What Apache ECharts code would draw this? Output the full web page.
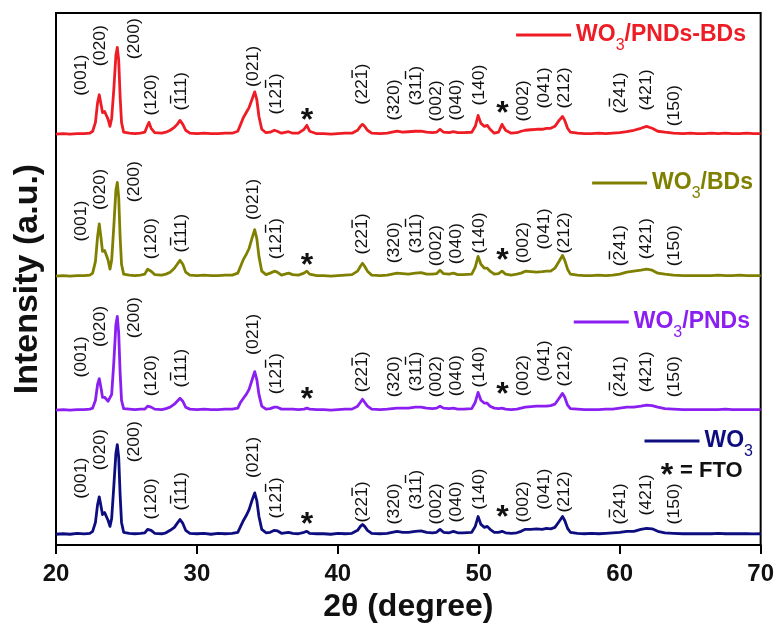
<!DOCTYPE html>
<html>
<head>
<meta charset="utf-8">
<script src="https://cdn.jsdelivr.net/npm/echarts@6/dist/echarts.min.js"></script>
<style>
  html, body { margin: 0; padding: 0; background: #fff; }
  #chart { width: 777px; height: 628px; }
</style>
</head>
<body>
<div id="chart"></div>
<script>
// Shared 2-theta sampling (degrees) for all four diffraction patterns
const twoTheta = [
  20.0, 20.5, 21.0, 21.5, 22.0, 22.4, 22.6, 22.8, 22.95, 23.07,
  23.2, 23.3, 23.45, 23.55, 23.7, 23.83, 23.95, 24.1, 24.25, 24.35,
  24.45, 24.55, 24.65, 24.8, 25.2, 25.6, 26.0, 26.3, 26.5, 26.6,
  26.75, 27.0, 27.5, 27.8, 28.1, 28.4, 28.6, 28.8, 29.0, 29.2,
  29.5, 30.0, 30.5, 31.0, 31.5, 32.0, 32.5, 32.9, 33.1, 33.3,
  33.5, 33.7, 33.9, 34.1, 34.25, 34.4, 34.6, 34.9, 35.2, 35.5,
  35.7, 36.0, 36.5, 36.8, 37.2, 37.6, 37.8, 38.0, 38.5, 39.0,
  39.5, 40.0, 40.5, 41.0, 41.4, 41.6, 41.75, 41.9, 42.1, 42.4,
  43.0, 43.5, 44.2, 44.6, 45.0, 45.5, 45.9, 46.3, 46.7, 47.0,
  47.25, 47.5, 47.9, 48.2, 48.5, 48.9, 49.5, 49.75, 49.95, 50.15,
  50.4, 50.6, 50.8, 51.1, 51.4, 51.65, 51.9, 52.3, 52.7, 53.0,
  53.3, 53.7, 54.1, 54.5, 54.8, 55.1, 55.4, 55.7, 55.94, 56.1,
  56.3, 56.5, 57.0, 57.5, 58.0, 58.5, 59.0, 59.5, 60.0, 60.5,
  61.0, 61.5, 61.9, 62.3, 62.7, 63.2, 63.8, 64.5, 65.0, 65.5,
  66.0, 66.5, 67.0, 67.5, 68.0, 68.5, 69.0, 69.5, 70.0
];

// Intensities above each pattern's own baseline (a.u.)
const intWO3 = [
  0, 0.5, 0, 0.8, 0.3, 1, 3, 12, 30, 38,
  28, 20, 22, 21, 14, 8, 16, 48, 82, 91,
  78, 40, 12, 2, 1, 0.5, 1, 1.5, 5, 7,
  4, 1, 0.5, 1.5, 4, 7, 11, 15, 11, 4,
  1, 0.5, 1, 0, 1, 0.5, 1, 2, 8, 14,
  19, 25, 34, 42, 34, 18, 5, 1.5, 2, 4,
  3.5, 1, 2, 1, 0.5, 2, 3, 1, 0.5, 0.5,
  0, 1, 0.5, 1, 4, 8, 10, 8, 4, 1,
  0.5, 1, 3, 2, 2, 3, 3.5, 2, 1.5, 2,
  5, 2, 1.5, 3, 1.5, 1.5, 2, 8, 18, 10,
  7, 8, 5, 2, 2, 3, 1.5, 1, 1.5, 3,
  5, 5, 5.5, 5, 6, 5.5, 7, 13, 18, 14,
  6, 2, 1, 0.5, 1, 0.5, 1, 1.5, 2, 3,
  3, 5, 6, 5.5, 3, 1.5, 1, 0.5, 0.5, 0.5,
  0.5, 0.5, 1, 0.5, 0.5, 0.5, 0.5, 0.3, 0.5
];
const intPNDs = [
  0, 0.5, 0, 0.5, 0.5, 1, 2, 10, 26, 32,
  22, 13, 13, 12, 9, 7, 16, 48, 87, 95,
  78, 38, 10, 1.5, 1, 0.5, 1, 1, 4, 5,
  3, 1, 0.5, 1.5, 3, 6, 9, 12, 9, 3,
  1, 0.5, 1, 0.5, 0.5, 1, 1, 2, 8, 12,
  16, 21, 30, 39, 31, 16, 4, 1, 1.5, 3,
  3, 1, 1, 1, 0.5, 1, 2, 1, 0.5, 0.5,
  0, 0.5, 1, 1, 4, 8, 11, 8, 4, 1,
  0.5, 1, 2, 2, 2, 3, 3, 2, 1.5, 2,
  4, 2, 1.5, 2, 1, 1, 1.5, 8, 18, 10,
  7, 7, 4, 2, 1.5, 2, 1, 0.5, 1, 2,
  3, 3.5, 4, 4, 4, 4.5, 6, 12, 17, 13,
  5, 1.5, 1, 0.5, 0.5, 0.5, 1, 1, 2, 3,
  3, 4, 5, 4.5, 3, 1.5, 1, 0.5, 0.5, 0.5,
  0.5, 0.5, 0.5, 1, 0.5, 0.5, 0.5, 0.5, 0.5
];
const intBDs = [
  0, 0.5, 0, 0.5, 0.5, 1, 3, 15, 40, 53,
  38, 25, 26, 25, 16, 7, 16, 50, 87, 95,
  80, 40, 12, 2, 1, 0.5, 1, 2, 7, 9,
  5, 1.5, 1, 2, 4, 8, 12, 16, 12, 4,
  1, 0.5, 1, 0.5, 0.5, 1, 1, 3, 10, 17,
  22, 28, 38, 47, 38, 20, 5, 1.5, 3, 5,
  4, 1, 3, 1.5, 1, 3, 5, 2, 0.5, 0.5,
  0, 0.5, 1, 1.5, 5, 10, 13, 10, 5, 1,
  0.5, 1, 3, 2.5, 2, 3, 3.5, 2, 2, 2.5,
  6, 2.5, 2, 3, 1.5, 1.5, 2, 9, 20, 12,
  8, 8, 5, 2, 2.5, 5, 2, 1, 2, 3,
  5, 4.5, 4, 4.5, 5, 5, 8, 15, 21, 16,
  7, 2, 1, 0.5, 0.5, 1, 0.5, 1, 2, 4,
  5, 6, 7, 6, 3, 2, 1, 0.5, 0.5, 0.5,
  0.5, 0.5, 1, 0.5, 0.5, 1, 0.5, 0.5, 0.5
];
const intPNDsBDs = [
  0, 0.5, 0, 0.5, 0.5, 1, 3, 12, 32, 40,
  30, 22, 23, 22, 15, 8, 16, 45, 80, 88,
  75, 38, 12, 2, 1, 0.5, 1, 2, 9, 12,
  6, 1.5, 1, 2, 4, 7, 10, 14, 10, 4,
  1, 0.5, 1, 0.5, 0.5, 1, 1, 3, 10, 17,
  22, 27, 35, 43, 35, 18, 5, 1.5, 2, 4,
  3, 1, 2.5, 1, 1, 5, 9, 3, 0.5, 0.5,
  0, 0.5, 1, 1, 4, 8, 10, 8, 4, 1,
  0.5, 1, 3, 2, 2.5, 3, 3, 2, 1.5, 2,
  5, 2, 1.5, 2.5, 1.5, 1.5, 2, 8, 19, 11,
  8, 9, 5, 1, 2, 10, 4, 1, 1.5, 3,
  4, 4.5, 5, 5, 6, 6, 8, 14, 18, 14,
  6, 2, 1, 0.5, 0.5, 1, 0.5, 1, 1.5, 2.5,
  4, 6, 8, 6, 3, 2, 1, 0.5, 1, 0.5,
  0.5, 1, 0.5, 1, 0.5, 0.5, 1, 0.5, 0.5
];

// Pattern names, vertical stacking offsets and colours (bottom to top)
const seriesNames = ['WO3', 'WO3/PNDs', 'WO3/BDs', 'WO3/PNDs-BDs'];
const seriesValues = [intWO3, intPNDs, intBDs, intPNDsBDs];
const stackOffsets = [11, 137, 273, 417];
const seriesColors = ['#0d0d80', '#8b1ff2', '#808000', '#ee1c25'];

// x-axis ticks
const xTicks = [20, 30, 40, 50, 60, 70];

// Miller indices: text, index of the barred digit (-1 = none), 2-theta position
const hklText = ['(001)', '(020)', '(200)', '(120)', '(111)', '(021)', '(121)', '(221)', '(320)', '(311)',
                 '(002)', '(040)', '(140)', '(002)', '(041)', '(212)', '(241)', '(421)', '(150)'];
const hklBar = [-1, -1, -1, -1, 1, -1, 3, 3, -1, 3, -1, -1, -1, -1, -1, -1, 1, -1, -1];
const hklTheta = [21.82, 23.19, 25.56, 26.78, 28.91, 34.05, 35.65, 41.79, 44.04, 45.58,
                  47.0, 48.46, 50.07, 53.19, 54.68, 56.1, 60.05, 61.9, 63.9];
// Height of each index label above the pattern baseline
const hklHeightWO3 = [36, 65, 73, 15, 24, 57, 16, 12, 10, 25, 10, 12, 25, 12, 25, 22, 10, 19, 10];
const hklHeightPNDs = [33, 64, 73, 14, 23, 56, 16, 18, 13, 19, 13, 14, 23, 14, 29, 24, 13, 18, 13];
const hklHeightBDs = [35, 67, 75, 17, 24, 57, 17, 22, 13, 23, 10, 12, 23, 13, 27, 23, 10, 17, 10];
const hklHeightPNDsBDs = [39, 69, 76, 19, 24, 48, 20, 30, 14, 29, 13, 14, 29, 13, 26, 26, 21, 24, 8];
const hklHeights = [hklHeightWO3, hklHeightPNDs, hklHeightBDs, hklHeightPNDsBDs];

// FTO substrate reflections (asterisks)
const ftoTheta = [37.8, 51.68];
const ftoHeights = [[17, 24], [18, 23], [18, 23], [21, 28]];

const FONT = 'Arial, "Liberation Sans", sans-serif';
const HKL_FONT = 'normal 16px ' + FONT;
const STAR_FONT = 'bold 32px ' + FONT;

const measureCtx = document.createElement('canvas').getContext('2d');
measureCtx.font = HKL_FONT;
const textWidth = s => measureCtx.measureText(s).width;

const lineSeries = seriesNames.map((name, p) => ({
  name: name,
  type: 'line',
  color: seriesColors[p],
  showSymbol: false,
  symbol: 'none',
  silent: true,
  z: 3,
  lineStyle: { width: 2.8, color: seriesColors[p], join: 'round' },
  data: twoTheta.map((t, k) => [t, stackOffsets[p] + seriesValues[p][k]])
}));

const hklData = [];
const starData = [];
for (let p = 0; p < seriesNames.length; p++) {
  hklTheta.forEach((t, i) => hklData.push([t, stackOffsets[p] + hklHeights[p][i], i]));
  ftoTheta.forEach((t, j) => starData.push([t, stackOffsets[p] + ftoHeights[p][j]]));
}

// Rotated Miller-index label, with an overbar for negative indices
function renderHkl(params, api) {
  const i = api.value(2);
  const pt = api.coord([api.value(0), api.value(1)]);
  const txt = hklText[i];
  const children = [{
    type: 'text',
    style: {
      text: txt, x: 0, y: 0, font: HKL_FONT, fill: '#111',
      align: 'left', verticalAlign: 'middle',
      textAlign: 'left', textVerticalAlign: 'middle'
    }
  }];
  const b = hklBar[i];
  if (b >= 0) {
    const x0 = textWidth(txt.slice(0, b));
    const w = textWidth(txt.charAt(b));
    children.push({
      type: 'line',
      shape: { x1: x0 + 1, y1: -11, x2: x0 + w - 0.5, y2: -11 },
      style: { stroke: '#111', lineWidth: 1.4 }
    });
  }
  return { type: 'group', x: pt[0], y: pt[1], rotation: Math.PI / 2, scaleX: 1.1, children: children };
}

function renderStar(params, api) {
  const pt = api.coord([api.value(0), api.value(1)]);
  return {
    type: 'text', x: pt[0], y: pt[1] + 8,
    style: {
      text: '*', font: STAR_FONT, fill: '#111',
      align: 'center', verticalAlign: 'middle',
      textAlign: 'center', textVerticalAlign: 'middle'
    }
  };
}

// One legend block per pattern, placed beside its own trace
const legendTops = [422, 303, 164, 16];
const legendRights = [24, 27, 24, 31];
const legends = seriesNames.map((name, p) => ({
  data: [name],
  top: legendTops[p],
  right: legendRights[p],
  orient: 'horizontal',
  padding: 0,
  selectedMode: false,
  icon: 'rect',
  itemWidth: 55,
  itemHeight: 3,
  formatter: n => '{w|' + n.replace('WO3', 'WO}{s|3}{w|') + '}',
  textStyle: {
    rich: {
      w: { fontSize: 23, fontWeight: 'bold', fontFamily: FONT, color: seriesColors[p], lineHeight: 26, verticalAlign: 'middle' },
      s: { fontSize: 16, fontFamily: FONT, color: seriesColors[p], lineHeight: 16, padding: [22, 0, 0, 0], verticalAlign: 'middle' }
    }
  }
}));

const chart = echarts.init(document.getElementById('chart'), null, { renderer: 'canvas' });
chart.setOption({
  animation: false,
  backgroundColor: '#fff',
  grid: { left: 56, right: 16, top: 13, bottom: 75, show: true, borderColor: '#000', borderWidth: 2 },
  legend: legends,
  xAxis: {
    type: 'value',
    min: xTicks[0],
    max: xTicks[xTicks.length - 1],
    interval: xTicks[1] - xTicks[0],
    axisLine: { show: true, lineStyle: { color: '#000', width: 2 } },
    axisTick: { show: true, inside: false, length: 9, lineStyle: { color: '#000', width: 2 } },
    axisLabel: { fontSize: 24, fontWeight: 'bold', fontFamily: FONT, color: '#111', margin: 17 },
    splitLine: { show: false },
    name: '2θ (degree)',
    nameLocation: 'middle',
    nameGap: 38,
    nameTextStyle: { fontSize: 32, fontWeight: 'bold', fontFamily: FONT, color: '#111' }
  },
  yAxis: {
    type: 'value',
    min: 0,
    max: 540,
    axisLine: { show: true, lineStyle: { color: '#000', width: 2 } },
    axisTick: { show: false },
    axisLabel: { show: false },
    splitLine: { show: false },
    name: 'Intensity (a.u.)',
    nameLocation: 'middle',
    nameRotate: 90,
    nameGap: 11,
    nameTextStyle: { fontSize: 34, fontWeight: 'bold', fontFamily: FONT, color: '#111' }
  },
  graphic: [
    {
      type: 'text', x: 667, y: 476, silent: true,
      style: { text: '*', font: STAR_FONT, fill: '#111', align: 'center', verticalAlign: 'middle', textAlign: 'center', textVerticalAlign: 'middle' }
    },
    {
      type: 'text', x: 680, y: 471, silent: true,
      style: { text: '= FTO', font: 'bold 22px ' + FONT, fill: '#111', align: 'left', verticalAlign: 'middle', textAlign: 'left', textVerticalAlign: 'middle' }
    }
  ],
  series: lineSeries.concat([
    {
      type: 'custom', coordinateSystem: 'cartesian2d', silent: true, clip: false, z: 4,
      encode: { x: 0, y: 1 },
      renderItem: renderHkl,
      data: hklData
    },
    {
      type: 'custom', coordinateSystem: 'cartesian2d', silent: true, clip: false, z: 4,
      encode: { x: 0, y: 1 },
      renderItem: renderStar,
      data: starData
    }
  ])
});
</script>
</body>
</html>
